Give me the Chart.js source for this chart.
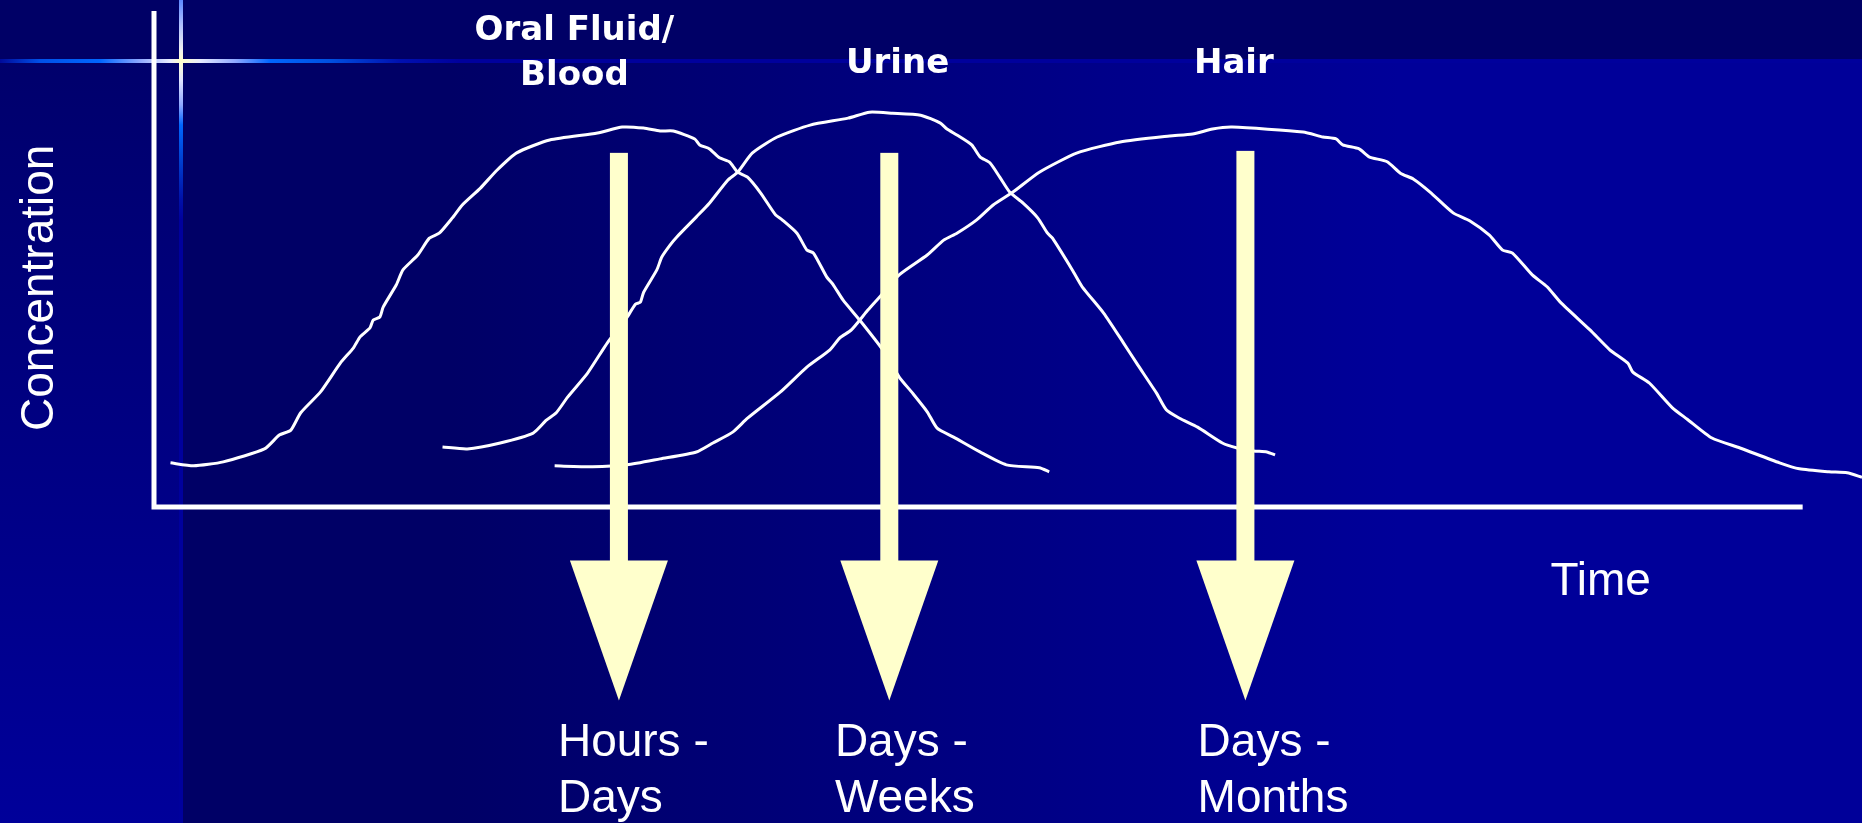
<!DOCTYPE html>
<html>
<head>
<meta charset="utf-8">
<script src="https://cdn.jsdelivr.net/npm/chart.js@4.4.1/dist/chart.umd.min.js"></script>
<style>
    html, body { margin: 0; padding: 0; background: #000066; overflow: hidden; }
    canvas { display: block; }
</style>
</head>
<body>
<canvas id="detectionChart" width="1862" height="823"></canvas>
<script>
// time runs 0..100 along the drawn axis, concentration 0..100 up the drawn axis
const oralTime = [1.0, 2.4, 4.2, 6.7, 7.6, 8.3, 8.9, 10.1, 11.3, 12.1, 12.5, 13.1, 13.3, 13.7, 13.9, 14.7, 15.1, 16.0, 16.7, 17.3,
    18.1, 18.7, 19.8, 20.8, 22.0, 24.0, 26.9, 28.4, 29.7, 30.7, 31.5, 32.8, 33.1, 33.7, 34.3, 34.9, 35.4, 36.0, 36.8, 37.7,
    38.1, 39.0, 39.6, 40.0, 40.8, 41.2, 41.8, 42.8, 44.2, 45.2, 46.0, 46.9, 47.5, 48.5, 50.1, 51.7, 53.7, 54.3];
const oralConc = [8.9, 8.3, 9.1, 11.7, 14.5, 15.5, 19.0, 23.2, 29.0, 32.1, 34.3, 36.1, 37.7, 38.3, 40.3, 44.8, 47.8, 50.8, 54.2, 55.2,
    58.3, 60.9, 64.3, 67.9, 71.4, 74.0, 75.4, 76.6, 76.4, 75.8, 75.8, 74.2, 73.0, 72.2, 70.4, 69.6, 67.5, 66.5, 63.3, 58.9,
    57.9, 55.2, 51.8, 51.2, 46.4, 44.8, 41.7, 37.7, 31.7, 26.2, 23.0, 19.2, 15.9, 14.1, 11.1, 8.5, 7.9, 7.1];

const urineTime = [17.5, 19.0, 21.0, 23.0, 23.8, 24.4, 25.1, 26.3, 27.5, 28.7, 29.2, 29.5, 29.7, 30.5, 30.8, 31.3, 31.7, 32.9, 33.7, 34.8,
    35.4, 36.3, 37.8, 39.8, 42.1, 43.4, 44.8, 46.5, 47.7, 48.1, 48.7, 49.6, 50.1, 50.7, 51.3, 51.9, 52.7, 53.6, 54.2, 54.5,
    55.7, 56.3, 57.6, 58.8, 59.6, 60.8, 61.4, 62.2, 63.3, 64.8, 65.7, 66.7, 67.5, 68.0];
const urineConc = [12.1, 11.7, 12.9, 14.9, 17.5, 19.0, 22.2, 27.0, 33.1, 38.3, 40.9, 41.3, 43.3, 47.8, 50.4, 52.8, 54.4, 58.5, 61.3, 65.9,
    67.5, 71.4, 74.6, 77.0, 78.4, 79.6, 79.4, 79.0, 77.4, 76.2, 75.0, 73.0, 70.6, 69.4, 66.5, 63.5, 61.3, 58.3, 55.2, 54.2,
    47.8, 44.4, 39.1, 33.1, 29.0, 23.0, 19.6, 17.9, 16.1, 12.9, 11.9, 11.3, 11.1, 10.5];

const hairTime = [24.3, 26.6, 28.7, 30.7, 32.9, 33.9, 35.1, 36.0, 38.0, 39.6, 41.0, 41.6, 42.3, 43.3, 44.0, 45.2, 46.9, 47.9, 48.7, 49.9,
    50.9, 52.1, 53.7, 56.0, 58.6, 61.6, 63.0, 64.2, 65.4, 69.7, 70.9, 71.7, 72.1, 73.1, 73.7, 74.8, 75.6, 76.4, 77.4, 78.8,
    79.8, 81.0, 81.8, 82.4, 83.6, 84.5, 85.3, 87.1, 88.3, 89.4, 89.7, 90.7, 92.1, 93.0, 94.5, 96.2, 98.6, 99.8, 101.6, 102.7, 103.6];
const hairConc = [8.3, 8.1, 8.5, 9.7, 11.1, 12.9, 15.1, 17.9, 23.2, 28.2, 31.7, 34.1, 35.7, 39.7, 42.3, 46.8, 50.8, 53.8, 55.2, 57.9,
    60.9, 63.5, 67.5, 71.4, 73.6, 74.8, 75.2, 76.2, 76.6, 75.6, 74.6, 74.2, 73.0, 72.2, 70.6, 69.6, 67.3, 66.1, 63.5, 59.3,
    57.7, 54.8, 51.8, 51.2, 46.8, 44.4, 41.3, 35.7, 31.7, 29.0, 27.2, 25.0, 20.0, 17.7, 13.9, 11.9, 8.9, 7.7, 7.1, 6.9, 6.0];

// matrix labels above the curves
const matrixNames = [['Oral Fluid/', 'Blood'], ['Urine'], ['Hair']];
const matrixLabelTime = [25.5, 45.1, 65.5];
const matrixLabelConc = [94.2, 87.5, 87.5];

// detection window arrows and their captions
const arrowTime = [28.2, 44.6, 66.2];
const arrowTopConc = [71.4, 71.4, 71.8];
const arrowHeadConc = -10.8;
const arrowTipConc = -39.0;
const windowNames = [['Hours -', 'Days'], ['Days -', 'Weeks'], ['Days -', 'Months']];
const windowLabelTime = [24.5, 41.3, 63.3];
const windowLabelConc = -50.2;

const axisTitleX = 'Time';
const axisTitleY = 'Concentration';

function toPoints(xs, ys) {
    return xs.map((x, i) => ({ x: x, y: ys[i] }));
}

const slideBackground = {
    id: 'slideBackground',
    beforeDraw(chart) {
        const { ctx, width, height } = chart;
        ctx.save();

        const main = ctx.createLinearGradient(450, 0, 1400, 0);
        main.addColorStop(0, '#000066');
        main.addColorStop(1, '#000099');
        ctx.fillStyle = main;
        ctx.fillRect(0, 0, width, height);

        ctx.fillStyle = '#000066';
        ctx.fillRect(0, 0, width, 62);

        const strip = ctx.createLinearGradient(0, 62, 0, height);
        strip.addColorStop(0, '#00006c');
        strip.addColorStop(1, '#00009a');
        ctx.fillStyle = strip;
        ctx.fillRect(0, 62, 180, height - 62);

        ctx.fillStyle = '#00009c';
        ctx.fillRect(179, 0, 4, height);
        ctx.fillRect(0, 59, width, 4);

        // glowing cross in the corner
        const hg = ctx.createLinearGradient(0, 0, 460, 0);
        [[0, '#000a9a'], [40, '#0050e8'], [100, '#0066ff'], [140, '#8fa8ff'], [170, '#e8ecff'], [181, '#ffffcc'],
         [200, '#e8ecff'], [235, '#8fa8ff'], [270, '#0066ff'], [330, '#0050e0'], [400, '#0010b0'], [460, '#00009c']]
            .forEach(s => hg.addColorStop(s[0] / 460, s[1]));
        ctx.fillStyle = hg;
        ctx.fillRect(0, 59, 460, 4);

        const vg = ctx.createLinearGradient(0, 0, 0, 220);
        [[0, '#5d88ff'], [25, '#b0c0ff'], [50, '#f0f0f0'], [61, '#ffffcc'], [80, '#e0e4ff'], [105, '#90a8ff'],
         [125, '#0066ff'], [160, '#0040d0'], [200, '#0010a8'], [220, '#00009c']]
            .forEach(s => vg.addColorStop(s[0] / 220, s[1]));
        ctx.fillStyle = vg;
        ctx.fillRect(179, 0, 4, 220);

        ctx.restore();
    }
};

const annotations = {
    id: 'annotations',
    afterDatasetsDraw(chart) {
        const { ctx, scales: { x, y } } = chart;
        ctx.save();

        // arrows
        ctx.fillStyle = '#ffffcc';
        arrowTime.forEach((t, i) => {
            const cx = x.getPixelForValue(t);
            const top = y.getPixelForValue(arrowTopConc[i]);
            const headTop = y.getPixelForValue(arrowHeadConc);
            const tip = y.getPixelForValue(arrowTipConc);
            ctx.fillRect(cx - 9, top, 18, headTop - top + 1);
            ctx.beginPath();
            ctx.moveTo(cx - 49, headTop);
            ctx.lineTo(cx + 49, headTop);
            ctx.lineTo(cx, tip);
            ctx.closePath();
            ctx.fill();
        });

        ctx.fillStyle = '#ffffff';

        // matrix names
        ctx.font = 'bold 34px "DejaVu Sans", sans-serif';
        ctx.textAlign = 'center';
        ctx.textBaseline = 'alphabetic';
        matrixNames.forEach((lines, i) => {
            const px = x.getPixelForValue(matrixLabelTime[i]);
            const py = y.getPixelForValue(matrixLabelConc[i]);
            lines.forEach((line, j) => ctx.fillText(line, px, py + j * 45));
        });

        // detection windows
        ctx.font = '46px "Liberation Sans", Arial, sans-serif';
        ctx.textAlign = 'left';
        windowNames.forEach((lines, i) => {
            const px = x.getPixelForValue(windowLabelTime[i]);
            const py = y.getPixelForValue(windowLabelConc);
            lines.forEach((line, j) => ctx.fillText(line, px, py + j * 56));
        });

        // axis titles
        ctx.fillText(axisTitleX, x.getPixelForValue(84.7), y.getPixelForValue(-17.7));
        ctx.translate(x.getPixelForValue(-6.1), y.getPixelForValue(44.2));
        ctx.rotate(-Math.PI / 2);
        ctx.textAlign = 'center';
        ctx.fillText(axisTitleY, 0, 0);

        ctx.restore();
    }
};

const curveStyle = {
    showLine: true,
    borderColor: '#ffffff',
    borderWidth: 3,
    pointRadius: 0,
    tension: 0.2,
    clip: false
};

new Chart(document.getElementById('detectionChart'), {
    type: 'scatter',
    data: {
        datasets: [
            {
                label: 'Axes',
                data: [{ x: 0, y: 100 }, { x: 0, y: 0 }, { x: 100, y: 0 }],
                showLine: true,
                borderColor: '#ffffff',
                borderWidth: 5,
                borderJoinStyle: 'miter',
                pointRadius: 0,
                tension: 0,
                clip: false
            },
            Object.assign({ label: 'Oral Fluid/Blood', data: toPoints(oralTime, oralConc) }, curveStyle),
            Object.assign({ label: 'Urine', data: toPoints(urineTime, urineConc) }, curveStyle),
            Object.assign({ label: 'Hair', data: toPoints(hairTime, hairConc) }, curveStyle)
        ]
    },
    options: {
        responsive: false,
        animation: false,
        devicePixelRatio: 1,
        layout: { padding: { left: 154, top: 11, right: 0, bottom: 316 } },
        plugins: {
            legend: { display: false },
            tooltip: { enabled: false }
        },
        scales: {
            x: { type: 'linear', min: 0, max: 103.6, display: false },
            y: { type: 'linear', min: 0, max: 100, display: false }
        }
    },
    plugins: [slideBackground, annotations]
});
</script>
</body>
</html>
